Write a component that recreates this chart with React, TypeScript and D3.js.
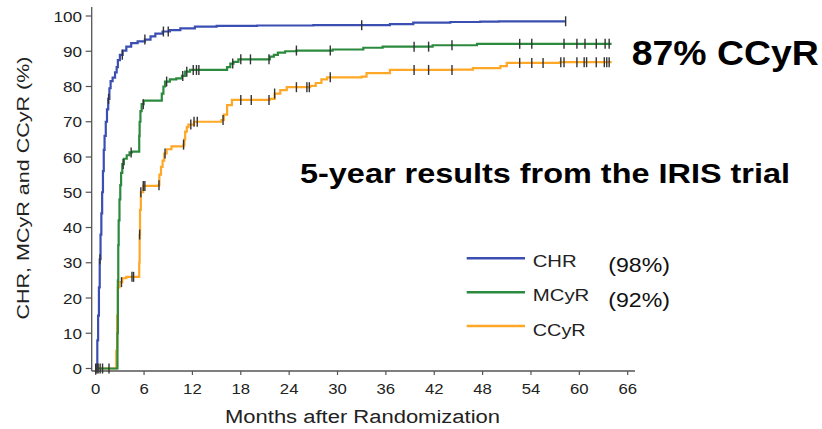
import React from 'react';
import * as d3 from 'd3';

// step points [month, percent]
const chrSteps: [number, number][] = [
  [0, 0], [0.1, 0], [0.2, 8], [0.3, 15], [0.4, 23], [0.5, 31], [0.6, 38], [0.7, 44],
  [0.8, 50], [0.9, 56], [1.0, 62], [1.1, 66], [1.25, 70], [1.4, 73.5], [1.55, 76.5],
  [1.7, 79.5], [1.85, 81.5], [2.1, 82.5], [2.4, 84], [2.6, 85.5], [2.75, 87.5], [3.0, 89],
  [3.35, 90.2], [3.8, 91.3], [4.4, 92.3], [5.2, 92.8], [6.1, 93.3], [6.8, 94.2], [7.4, 95],
  [8.3, 95.6], [9.2, 96], [10.5, 96.5], [12.3, 97], [15, 97.2], [20, 97.3], [27, 97.4],
  [36.5, 97.7], [39.4, 98.1], [44, 98.3], [47.7, 98.4], [50, 98.5], [58.3, 98.5],
];

const mcyrSteps: [number, number][] = [
  [0, 0], [2.65, 0], [2.7, 10], [2.75, 25], [2.8, 35], [2.85, 42], [2.95, 48], [3.05, 52],
  [3.15, 55.5], [3.3, 58], [3.5, 59.5], [3.85, 60.5], [4.2, 61.3], [4.5, 61.5], [5.3, 61.5],
  [5.4, 66], [5.45, 70], [5.55, 73], [5.7, 75], [5.95, 76], [8.2, 78], [8.4, 80], [8.6, 81.4],
  [9.2, 82], [10.0, 82.3], [10.7, 83], [11.1, 84.2], [11.7, 84.7], [16.3, 85.5], [16.7, 86.5],
  [17.1, 87], [17.7, 87.7], [21.6, 88.5], [22.1, 89], [22.6, 89.6], [23.5, 90], [24.9, 90.2],
  [29.4, 90.5], [33.2, 91], [35.6, 91.3], [41.8, 91.7], [47.3, 92.1], [64, 92.1],
];

const ccyrSteps: [number, number][] = [
  [0, 0], [2.45, 0], [2.55, 5], [2.65, 15], [2.75, 23], [2.95, 24.5], [3.3, 25.6], [3.8, 26],
  [5.3, 26], [5.4, 30], [5.45, 38], [5.5, 45], [5.6, 50], [5.9, 51.8], [7.8, 52], [7.9, 55],
  [8.1, 57.2], [8.3, 59], [8.5, 61], [8.8, 62.2], [9.4, 63], [10.9, 63.5], [11.0, 65],
  [11.1, 67.2], [11.3, 68.5], [11.5, 69.2], [12.2, 70], [15.6, 70.5], [15.9, 72], [16.3, 74.7],
  [16.9, 76.2], [21.6, 76.5], [22.2, 78], [22.9, 79], [23.7, 79.8], [26.6, 80.2], [27.3, 81],
  [28.0, 82], [28.7, 82.6], [33, 82.8], [33.6, 83.8], [36.5, 84.7], [44.4, 84.8], [46.8, 85.2],
  [50.2, 85.8], [51, 86.7], [57.6, 86.9], [64, 86.9],
];

// censoring marks (months)
const chrCensor = [0.15, 0.53, 1.6, 3.3, 6.1, 8.4, 9.0, 33, 58.3];
const mcyrCensor = [
  3.4, 4.4, 5.9, 8.8, 10.8, 11.3, 12.1, 12.5, 12.8, 17.0, 18.0, 19.2, 21.5, 24.9, 29.1,
  39.5, 41.3, 44.2, 52.6, 54.1, 58.1, 59.7, 60.7, 62.1, 63.2, 63.7,
];
const ccyrCensor = [
  0, 0.3, 0.55, 0.85, 1.65, 3.2, 4.5, 4.7, 5.45, 5.6, 5.9, 6.1, 7.85, 8.6, 10.9, 11.8, 12.2,
  12.6, 15.8, 18.0, 19.3, 21.5, 22.2, 24.9, 26.2, 26.5, 29.1, 39.5, 41.3, 44.2, 52.6, 54.1,
  55.5, 57.7, 58.1, 59.7, 60.6, 60.9, 62.1, 63.1, 63.4, 63.7,
];

const seriesNames = ['CHR', 'MCyR', 'CCyR'];
const seriesPct = ['(98%)', '(92%)', ''];
const xTicks = [0, 6, 12, 18, 24, 30, 36, 42, 48, 54, 60, 66];
const yTicks = [0, 10, 20, 30, 40, 50, 60, 70, 80, 90, 100];

const colors = ['#3b4fb3', '#2b8a3e', '#ffa726'];
const font = '"Liberation Sans", Arial, Helvetica, sans-serif';

const x = d3.scaleLinear().domain([0, 66]).range([95.7, 627.7]);
const y = d3.scaleLinear().domain([0, 100]).range([368.5, 16]);

const stepAt = (steps: [number, number][], m: number) => {
  const i = d3.bisector((d: [number, number]) => d[0]).right(steps, m) - 1;
  return steps[Math.max(0, i)][1];
};

const line = d3
  .line<[number, number]>()
  .x(d => x(d[0]))
  .y(d => y(d[1]))
  .curve(d3.curveStepAfter);

const series = [
  { steps: chrSteps, censor: chrCensor },
  { steps: mcyrSteps, censor: mcyrCensor },
  { steps: ccyrSteps, censor: ccyrCensor },
];

const axisX = 91.7;
const axisY = 371;

export default function App() {
  return (
    <div style={{ position: 'absolute', left: 0, top: 0 }}>
      <svg width={822} height={429} style={{ display: 'block', background: '#fff' }} fontFamily={font}>
        {/* axes */}
        <line x1={axisX} x2={axisX} y1={7} y2={axisY} stroke="#555" strokeWidth={1.3} />
        <line x1={axisX} x2={635} y1={axisY} y2={axisY} stroke="#555" strokeWidth={1.3} />
        {yTicks.map(t => (
          <g key={'y' + t}>
            <line x1={axisX - 6} x2={axisX} y1={y(t)} y2={y(t)} stroke="#555" strokeWidth={1.2} />
            <text
              x={82}
              y={y(t)}
              dy="0.36em"
              textAnchor="end"
              fontSize={15.5}
              fill="#222"
              textLength={String(t).length * 9.5}
              lengthAdjust="spacingAndGlyphs"
            >
              {t}
            </text>
          </g>
        ))}
        {xTicks.map(t => (
          <g key={'x' + t}>
            <line x1={x(t)} x2={x(t)} y1={axisY} y2={axisY + 4} stroke="#555" strokeWidth={1.2} />
            <text
              x={x(t)}
              y={393.5}
              textAnchor="middle"
              fontSize={15.5}
              fill="#222"
              textLength={String(t).length * 9.3}
              lengthAdjust="spacingAndGlyphs"
            >
              {t}
            </text>
          </g>
        ))}
        <text
          x={362.5}
          y={423}
          textAnchor="middle"
          fontSize={18}
          fill="#222"
          textLength={275}
          lengthAdjust="spacingAndGlyphs"
        >
          Months after Randomization
        </text>
        <text
          transform="translate(28.5,188) rotate(-90)"
          textAnchor="middle"
          fontSize={17}
          fill="#222"
          textLength={263}
          lengthAdjust="spacingAndGlyphs"
        >
          CHR, MCyR and CCyR (%)
        </text>

        {/* curves, drawn back to front */}
        {[2, 1, 0].map(i => (
          <path
            key={'c' + i}
            d={line(series[i].steps) || ''}
            fill="none"
            stroke={colors[i]}
            strokeWidth={2.2}
          />
        ))}
        {series.map((s, i) =>
          s.censor.map((m, j) => {
            const cy = y(stepAt(s.steps, m));
            return (
              <line
                key={'t' + i + '-' + j}
                x1={x(m)}
                x2={x(m)}
                y1={cy - 5}
                y2={cy + 5}
                stroke="#333"
                strokeWidth={1.4}
              />
            );
          })
        )}

        {/* legend */}
        {seriesNames.map((name, i) => (
          <g key={'l' + name}>
            <line
              x1={466.7}
              x2={525}
              y1={258.3 + i * 33.9}
              y2={258.3 + i * 33.9}
              stroke={colors[i]}
              strokeWidth={2.5}
            />
            <text
              x={532.7}
              y={266.7 + i * 34.5}
              fontSize={17}
              fill="#222"
              textLength={[44, 56.6, 53][i]}
              lengthAdjust="spacingAndGlyphs"
            >
              {name}
            </text>
            {seriesPct[i] && (
              <text
                x={608.3}
                y={271.7 + i * 35}
                fontSize={20}
                fill="#111"
                textLength={61.7}
                lengthAdjust="spacingAndGlyphs"
              >
                {seriesPct[i]}
              </text>
            )}
          </g>
        ))}

        {/* annotations */}
        <text
          x={631.7}
          y={65}
          fontSize={35}
          fontWeight="bold"
          fill="#000"
          textLength={187}
          lengthAdjust="spacingAndGlyphs"
        >
          87% CCyR
        </text>
        <text
          x={300}
          y={183.3}
          fontSize={28}
          fontWeight="bold"
          fill="#000"
          textLength={490}
          lengthAdjust="spacingAndGlyphs"
        >
          5-year results from the IRIS trial
        </text>
      </svg>
    </div>
  );
}
